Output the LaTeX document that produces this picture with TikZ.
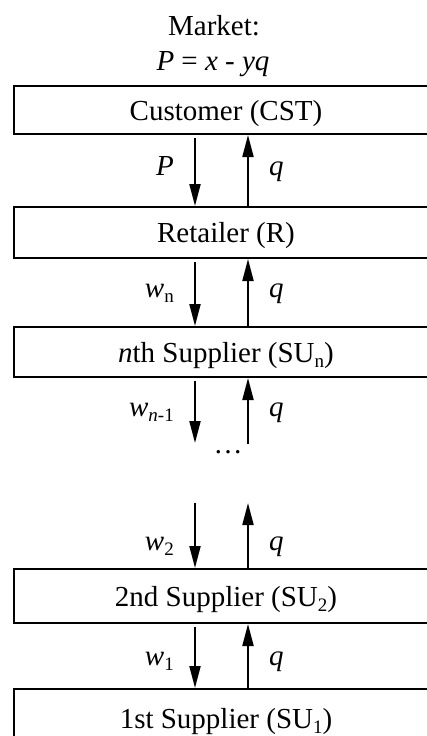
\documentclass[tikz,border=0pt]{standalone}
\usepackage{fontspec}
\setmainfont{Liberation Serif}
\usetikzlibrary{arrows.meta}
\newcommand{\mysub}[1]{\raisebox{-5pt}{\fontsize{19}{21}\selectfont #1}}
\begin{document}
\begin{tikzpicture}[x=1pt,y=-1pt,
  box/.style={draw,line width=2pt,minimum width=424pt,anchor=north west,inner sep=0pt,
    text height=20pt,text depth=0pt,font=\fontsize{29}{31}\selectfont},
  flow/.style={line width=2pt,-{Triangle[length=22pt,width=11pt]}},
  lbl/.style={font=\fontsize{29}{31}\selectfont,inner sep=0pt},
  llbl/.style={lbl,anchor=base east},
  rlbl/.style={lbl,anchor=base west},
]
\clip (0,0) rectangle (427,736);
% title
\node[lbl,anchor=base] (mkt) at (214,35) {Market:};
\node[lbl,anchor=base] (eq) at (213,70) {\textit{P} = \textit{x} - \textit{yq}};
% boxes
\node[box,minimum height=48pt] (cst) at (13,85) {Customer (CST)};
\node[box,minimum height=51pt] (ret) at (13,206) {Retailer (R)};
\node[box,minimum height=50pt] (sun) at (13,326) {\textit{n}th Supplier (SU\mysub{n})};
\node[box,minimum height=54pt] (su2) at (13,568) {2nd Supplier (SU\mysub{2})};
\node[box,minimum height=58pt] (su1) at (13,688) {1st Supplier (SU\mysub{1})};
% column positions
\coordinate (dx) at (195,0);
\coordinate (ux) at (248,0);
% free ends around the gap
\coordinate (dn1) at (195,443);
\coordinate (up1) at (248,444);
\coordinate (dn2) at (195,503);
\coordinate (up2) at (248,503);
\node[lbl] (dots) at (228,452) {…};
% arrows
\draw[flow,shorten <=3pt] (cst.south -| dx) -- (ret.north -| dx);
\draw[flow] (ret.north -| ux) -- (cst.south -| ux);
\draw[flow,shorten <=3pt] (ret.south -| dx) -- (sun.north -| dx);
\draw[flow] (sun.north -| ux) -- (ret.south -| ux);
\draw[flow,shorten <=3pt] (sun.south -| dx) -- (dn1);
\draw[flow] (up1) -- (sun.south -| ux);
\draw[flow] (dn2) -- (su2.north -| dx);
\draw[flow] (su2.north -| ux) -- (up2);
\draw[flow,shorten <=3pt] (su2.south -| dx) -- (su1.north -| dx);
\draw[flow] (su1.north -| ux) -- (su2.south -| ux);
% labels
\node[llbl] (lp) at (174,175) {\textit{P}};
\node[rlbl] (q1) at (269,175) {\textit{q}};
\node[llbl] (lwn) at (174,297) {\textit{w}\mysub{n}};
\node[rlbl] (q2) at (269,297) {\textit{q}};
\node[llbl] (lwn1) at (174,416) {\textit{w}\mysub{\textit{n}-1}};
\node[rlbl] (q3) at (269,416) {\textit{q}};
\node[llbl] (lw2) at (174,550) {\textit{w}\mysub{2}};
\node[rlbl] (q4) at (269,550) {\textit{q}};
\node[llbl] (lw1) at (174,665) {\textit{w}\mysub{1}};
\node[rlbl] (q5) at (269,665) {\textit{q}};
\end{tikzpicture}
\end{document}
